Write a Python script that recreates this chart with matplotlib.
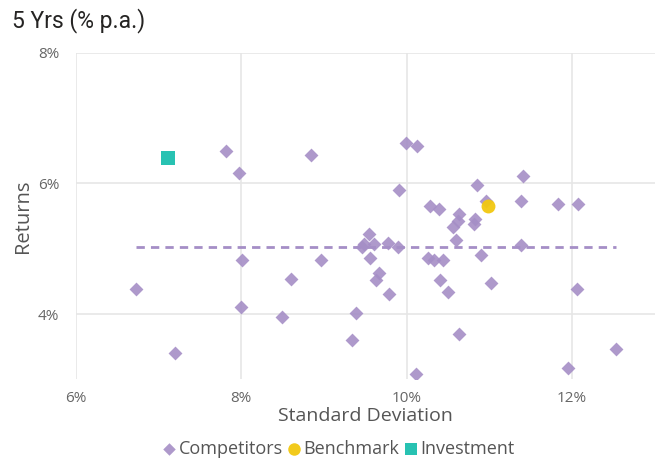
import matplotlib.pyplot as plt
from matplotlib.ticker import FuncFormatter

# competitors: standard deviation (%) / returns (%)
comp_sd = [6.73, 7.20, 7.82, 7.98, 8.01, 8.00, 8.50, 8.60, 8.84, 8.97,
           9.34, 9.39, 9.46, 9.48, 9.55, 9.56, 9.61, 9.63, 9.67, 9.79,
           9.77, 9.90, 9.91, 9.99, 10.13, 10.11, 10.26, 10.28, 10.33, 10.39,
           10.41, 10.44, 10.50, 10.56, 10.60, 10.64, 10.64, 10.62, 10.81, 10.83,
           10.85, 10.90, 10.96, 11.02, 11.38, 11.38, 11.41, 11.83, 11.95, 12.06,
           12.07, 12.53]
comp_ret = [4.38, 3.41, 6.49, 6.15, 4.82, 4.11, 3.95, 4.54, 6.44, 4.82,
            3.60, 4.01, 5.02, 5.07, 5.23, 4.86, 5.07, 4.52, 4.63, 4.31,
            5.09, 5.02, 5.89, 6.61, 6.57, 3.08, 4.86, 5.66, 4.82, 5.61,
            4.52, 4.83, 4.34, 5.33, 5.14, 3.70, 5.53, 5.43, 5.37, 5.46,
            5.97, 4.90, 5.73, 4.48, 5.06, 5.73, 6.11, 5.68, 3.18, 4.39,
            5.68, 3.47]

bench_sd = [10.98]
bench_ret = [5.65]

inv_sd = [7.12]
inv_ret = [6.39]

# trend line (as drawn)
trend_sd = [6.73, 12.53]
trend_ret = [5.02, 5.02]

purple = "#A58EC6"
yellow = "#F2C80F"
teal = "#1CBFAE"

fig = plt.figure(figsize=(6.64, 4.61), dpi=100)
ax = fig.add_axes([0.114, 0.177, 0.872, 0.709])

ax.plot(trend_sd, trend_ret, linestyle=(0, (3, 2.2)), color=purple, lw=2, zorder=2)
ax.scatter(comp_sd, comp_ret, marker="D", s=50, color=purple, alpha=0.9,
           linewidths=0, zorder=3, label="Competitors")
ax.scatter(bench_sd, bench_ret, marker="o", s=100, color=yellow, alpha=0.95,
           linewidths=0, zorder=4, label="Benchmark")
ax.scatter(inv_sd, inv_ret, marker="s", s=88, color=teal, alpha=0.95,
           linewidths=0, zorder=4, label="Investment")

ax.set_xlim(6, 13)
ax.set_ylim(3, 8)
ax.set_xticks([6, 8, 10, 12])
ax.set_yticks([4, 6, 8])
pct = FuncFormatter(lambda v, p: f"{v:.0f}%")
ax.xaxis.set_major_formatter(pct)
ax.yaxis.set_major_formatter(pct)
ax.grid(True, color="#E6E6E6", lw=1.2)
ax.set_axisbelow(True)
for s in ax.spines.values():
    s.set_visible(False)
ax.tick_params(length=0, labelsize=11, labelcolor="#666666")
ax.tick_params(axis="y", pad=12)
ax.tick_params(axis="x", pad=8)
for lab in ax.get_xticklabels() + ax.get_yticklabels():
    lab.set_family("Open Sans")

ax.set_xlabel("Standard Deviation", fontsize=14, color="#555555",
              family="Open Sans", labelpad=1)
ax.set_ylabel("Returns", fontsize=14.5, color="#555555",
              family="Open Sans", labelpad=3)

fig.text(0.018, 0.955, "5 Yrs (% p.a.)", fontsize=16.5, color="#252423",
         family="Roboto", va="center", ha="left")

fig.legend(loc="center", bbox_to_anchor=(0.51, 0.026), ncol=3, frameon=False,
           handlelength=0.7, handletextpad=0.15, columnspacing=0.3,
           borderaxespad=0, prop={"family": "Open Sans", "size": 13},
           labelcolor="#555555", markerscale=0.9)

fig.savefig("out.png", dpi=100)
